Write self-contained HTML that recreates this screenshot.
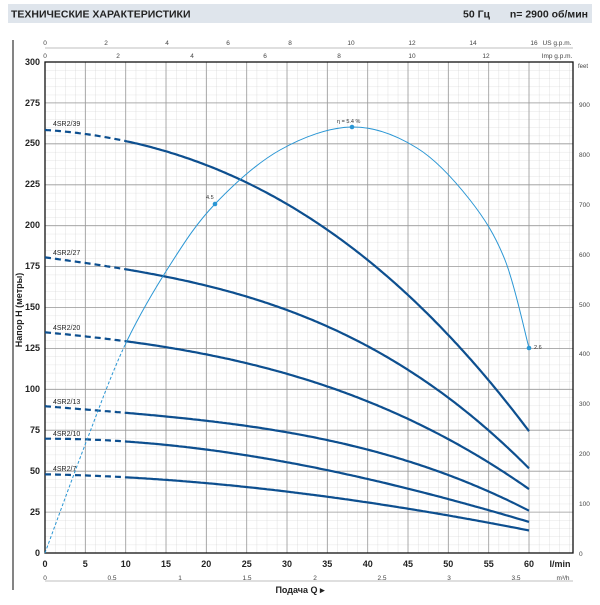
<!DOCTYPE html>
<html><head><meta charset="utf-8"><style>
body{margin:0;background:#fff;width:600px;height:600px;overflow:hidden;font-family:"Liberation Sans",sans-serif}
</style></head><body>
<svg id="s" width="600" height="600" xmlns="http://www.w3.org/2000/svg" font-family="Liberation Sans, sans-serif">
<rect x="8" y="4" width="584" height="19" fill="#dfe5ec"/>
<text x="11" y="17.5" font-size="10.5" font-weight="bold" fill="#222">ТЕХНИЧЕСКИЕ ХАРАКТЕРИСТИКИ</text>
<text x="463" y="17.5" font-size="10.5" font-weight="bold" fill="#222">50 Гц</text>
<text x="588" y="17.5" font-size="10.5" font-weight="bold" fill="#222" text-anchor="end">n= 2900  об/мин</text>
<line x1="13" y1="40" x2="13" y2="590" stroke="#333" stroke-width="1.2"/>
<defs>
<pattern id="gmin" x="45" y="62" width="10.08" height="8.18" patternUnits="userSpaceOnUse">
<path d="M0,0V8.18M0,0H10.08" stroke="#ccc" stroke-width="0.6" fill="none"/>
</pattern>
<clipPath id="cl"><rect x="0" y="0" width="125" height="600"/></clipPath>
<clipPath id="cr"><rect x="125" y="0" width="500" height="600"/></clipPath>
</defs>
<rect x="45" y="62" width="528" height="491" fill="url(#gmin)"/>
<g stroke="#999" stroke-width="0.8">
<line x1="85.3" y1="62" x2="85.3" y2="553"/><line x1="125.7" y1="62" x2="125.7" y2="553"/><line x1="166" y1="62" x2="166" y2="553"/><line x1="206.3" y1="62" x2="206.3" y2="553"/><line x1="246.7" y1="62" x2="246.7" y2="553"/><line x1="287" y1="62" x2="287" y2="553"/><line x1="327.3" y1="62" x2="327.3" y2="553"/><line x1="367.7" y1="62" x2="367.7" y2="553"/><line x1="408" y1="62" x2="408" y2="553"/><line x1="448.3" y1="62" x2="448.3" y2="553"/><line x1="488.7" y1="62" x2="488.7" y2="553"/><line x1="529" y1="62" x2="529" y2="553"/>
<line x1="45" y1="512.1" x2="573" y2="512.1"/><line x1="45" y1="471.2" x2="573" y2="471.2"/><line x1="45" y1="430.2" x2="573" y2="430.2"/><line x1="45" y1="389.3" x2="573" y2="389.3"/><line x1="45" y1="348.4" x2="573" y2="348.4"/><line x1="45" y1="307.5" x2="573" y2="307.5"/><line x1="45" y1="266.6" x2="573" y2="266.6"/><line x1="45" y1="225.7" x2="573" y2="225.7"/><line x1="45" y1="184.8" x2="573" y2="184.8"/><line x1="45" y1="143.8" x2="573" y2="143.8"/><line x1="45" y1="102.9" x2="573" y2="102.9"/>
</g>
<rect x="45" y="62" width="528" height="491" fill="none" stroke="#111" stroke-width="1.3"/>
<g font-size="9" font-weight="bold" fill="#222" text-anchor="end">
<text x="40" y="556">0</text><text x="40" y="515">25</text><text x="40" y="474">50</text><text x="40" y="433">75</text><text x="40" y="392">100</text><text x="40" y="351">125</text><text x="40" y="310">150</text><text x="40" y="269">175</text><text x="40" y="228">200</text><text x="40" y="187">225</text><text x="40" y="146">250</text><text x="40" y="106">275</text><text x="40" y="65">300</text>
</g>
<g font-size="9" font-weight="bold" fill="#222" text-anchor="middle">
<text x="45" y="567">0</text><text x="85.3" y="567">5</text><text x="125.7" y="567">10</text><text x="166" y="567">15</text><text x="206.3" y="567">20</text><text x="246.7" y="567">25</text><text x="287" y="567">30</text><text x="327.3" y="567">35</text><text x="367.7" y="567">40</text><text x="408" y="567">45</text><text x="448.3" y="567">50</text><text x="488.7" y="567">55</text><text x="529" y="567">60</text>
<text x="560" y="567">l/min</text>
</g>
<line x1="45" y1="581" x2="573" y2="581" stroke="#aaa" stroke-width="0.8"/>
<g font-size="6.5" fill="#444" text-anchor="middle">
<text x="45" y="580">0</text><text x="112" y="580">0.5</text><text x="180" y="580">1</text><text x="247" y="580">1.5</text><text x="315" y="580">2</text><text x="382" y="580">2.5</text><text x="449" y="580">3</text><text x="516" y="580">3.5</text><text x="563" y="580">m³/h</text>
</g>
<text x="300" y="593" font-size="9" font-weight="bold" fill="#222" text-anchor="middle">Подача  Q  ▸</text>
<g font-size="6.5" fill="#444" text-anchor="middle">
<text x="45" y="45">0</text><text x="106" y="45">2</text><text x="167" y="45">4</text><text x="228" y="45">6</text><text x="290" y="45">8</text><text x="351" y="45">10</text><text x="412" y="45">12</text><text x="473" y="45">14</text><text x="534" y="45">16</text><text x="557" y="45">US g.p.m.</text>
<text x="45" y="58">0</text><text x="118" y="58">2</text><text x="192" y="58">4</text><text x="265" y="58">6</text><text x="339" y="58">8</text><text x="412" y="58">10</text><text x="486" y="58">12</text><text x="557" y="58">Imp g.p.m.</text>
</g>
<line x1="45" y1="48" x2="573" y2="48" stroke="#aaa" stroke-width="0.8"/>
<g font-size="6.5" fill="#444">
<text x="579" y="556">0</text><text x="579" y="506">100</text><text x="579" y="456">200</text><text x="579" y="406">300</text><text x="579" y="356">400</text><text x="579" y="307">500</text><text x="579" y="257">600</text><text x="579" y="207">700</text><text x="579" y="157">800</text><text x="579" y="107">900</text>
<text x="578" y="68" font-size="6">feet</text>
</g>
<text transform="translate(22,310) rotate(-90)" font-size="9" font-weight="bold" fill="#222" text-anchor="middle">Напор  H  (метры)</text>
<g id="curves" fill="none" stroke="#0d4f8f" stroke-width="2.2"></g>
<g font-size="7" fill="#222">
<text x="53" y="126">4SR2/39</text><text x="53" y="255">4SR2/27</text><text x="53" y="330">4SR2/20</text><text x="53" y="404">4SR2/13</text><text x="53" y="436">4SR2/10</text><text x="53" y="471">4SR2/7</text>
</g>
<g id="eff" fill="none" stroke="#2a96d4" stroke-width="1"></g>
<g fill="#2a96d4"><circle cx="215" cy="204" r="2.3"/><circle cx="352" cy="127" r="2.3"/><circle cx="529" cy="348" r="2.3"/></g>
<g font-size="5.5" fill="#333"><text x="206" y="199">4.5</text><text x="337" y="123">η = 5.4 %</text><text x="534" y="349">2.6</text></g>
</svg>
<script>
function fit(p,deg){var n=deg+1,A=[],b=[];for(var i=0;i<n;i++){A.push(new Array(n).fill(0));b.push(0);}
p.forEach(function(q){var t=(q[0]-45)/484;for(var i=0;i<n;i++){b[i]+=Math.pow(t,i)*q[1];for(var j=0;j<n;j++)A[i][j]+=Math.pow(t,i+j);}});
for(var i=0;i<n;i++){for(var k=i+1;k<n;k++){var f=A[k][i]/A[i][i];for(var j=i;j<n;j++)A[k][j]-=f*A[i][j];b[k]-=f*b[i];}}
var c=new Array(n).fill(0);for(var i=n-1;i>=0;i--){var s=b[i];for(var j=i+1;j<n;j++)s-=A[i][j]*c[j];c[i]=s/A[i][i];}return c;}
function path(c,x0,x1){var d="";for(var x=x0;x<=x1+0.01;x+=2){var t=(x-45)/484,y=0;for(var i=0;i<c.length;i++)y+=c[i]*Math.pow(t,i);d+=(d?"L":"M")+x.toFixed(1)+","+y.toFixed(1);}return d;}
var H=[
[[45,129],[125,143],[250,183],[370,260],[450,340],[529,430]],
[[45,257],[125,270],[250,297],[370,347],[450,400],[529,468]],
[[45,332],[125,342],[250,363],[370,403],[450,440],[529,489]],
[[45,406],[125,413],[250,427],[370,448],[450,478],[529,510]],
[[45,438],[125,443],[250,455],[370,478],[450,502],[529,521]],
[[45,474],[125,478],[250,487],[370,502],[450,517],[529,530]]];
var h="";
H.forEach(function(p){var c=fit(p,3);h+='<path d="'+path(c,125,529)+'"/><path stroke-dasharray="6,4" d="'+path(c,45,125)+'"/>';});
document.getElementById("curves").innerHTML=h;
function cr(p){var d="M"+p[0][0]+","+p[0][1];for(var i=0;i<p.length-1;i++){var a=p[i-1]||p[i],b=p[i],c=p[i+1],e=p[i+2]||c;
d+=" C"+(b[0]+(c[0]-a[0])/6)+","+(b[1]+(c[1]-a[1])/6)+" "+(c[0]-(e[0]-b[0])/6)+","+(c[1]-(e[1]-b[1])/6)+" "+c[0]+","+c[1];}return d;}
var E=[[45,553],[85,445],[125,345],[170,265],[215,204],[280,150],[352,127],[417,148],[470,200],[505,260],[529,348]];
var d=cr(E);
document.getElementById("eff").innerHTML='<path clip-path="url(#cr)" d="'+d+'"/><path clip-path="url(#cl)" stroke-dasharray="3,2" d="'+d+'"/>';
</script>
</body></html>
